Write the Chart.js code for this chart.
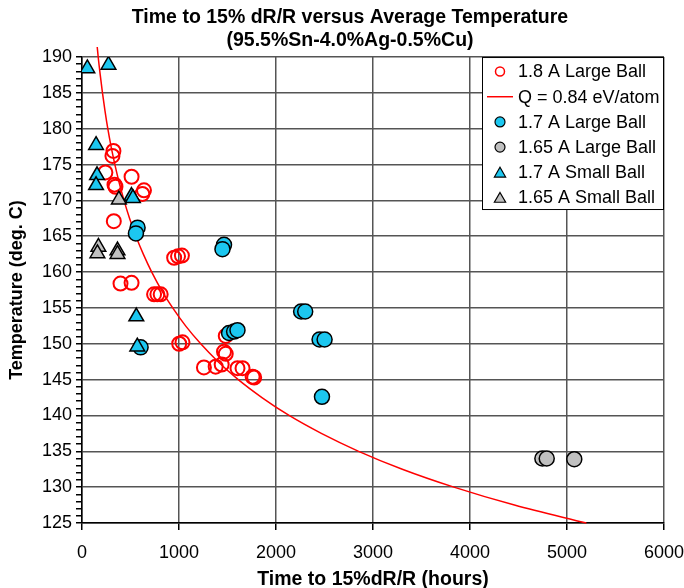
<!DOCTYPE html>
<html>
<head>
<meta charset="utf-8">
<title>Time to 15% dR/R versus Average Temperature</title>
<script src="https://cdn.jsdelivr.net/npm/chart.js@4.4.1/dist/chart.umd.min.js"></script>
<style>
  html, body { margin: 0; padding: 0; background: #ffffff; }
  canvas { display: block; }
</style>
</head>
<body>
<canvas id="chart" width="684" height="588"></canvas>
<script>
// Data (time in hours, temperature in deg. C)

// 1.8 A Large Ball
const large18Time = [324, 314, 241, 511, 335, 345, 639, 622, 328, 950, 990, 1030, 397, 511, 743, 777, 811,
  1002, 1036, 1482, 1464, 1482, 1257, 1378, 1440, 1603, 1655, 1759, 1775];
const large18Temp = [176.9, 176.2, 173.9, 173.3, 172.2, 171.9, 171.4, 170.9, 167.1, 162.0, 162.2, 162.3, 158.4, 158.5, 156.9, 156.9, 156.9,
  150.0, 150.2, 151.1, 148.9, 148.6, 146.7, 146.8, 147.1, 146.6, 146.6, 145.4, 145.3];

// Q = 0.84 eV/atom fit line
const fitTime = [157, 167, 188, 211, 237, 266, 300, 339, 383, 433, 490, 556, 632, 719, 819, 935, 1068, 1224, 1403, 1611, 1855, 2135, 2467, 2852, 3302, 3834, 4458, 5200];
const fitTemp = [191.4, 190, 187.5, 185, 182.5, 180, 177.5, 175, 172.5, 170, 167.5, 165, 162.5, 160, 157.5, 155, 152.5, 150, 147.5, 145, 142.5, 140, 137.5, 135, 132.5, 130, 127.5, 125];

// 1.7 A Large Ball
const large17Time = [573, 556, 1464, 1448, 2259, 2301, 1516, 1568, 1603, 2449, 2501, 2474, 604];
const large17Temp = [166.2, 165.4, 163.8, 163.2, 154.5, 154.5, 151.5, 151.7, 151.9, 150.6, 150.6, 142.6, 149.5];

// 1.65 A Large Ball
const large165Time = [4746, 4791, 5075];
const large165Temp = [134.0, 134.0, 133.9];

// 1.7 A Small Ball
const small17Time = [55, 273, 145, 155, 145, 510, 525, 560, 570];
const small17Temp = [188.4, 188.9, 177.7, 173.5, 172.1, 170.6, 170.3, 153.8, 149.6];

// 1.65 A Small Ball
const small165Time = [169, 159, 366, 366, 380];
const small165Temp = [163.5, 162.6, 163.0, 162.5, 170.1];

const xTickStep = 1000;
const yTickStep = 5;

function toPoints(xs, ys) {
  return xs.map(function (x, i) {
    return { x: x, y: ys[i] };
  });
}

const FONT = "'Liberation Sans', Arial, sans-serif";
const CYAN = "#1cc7f0";
const GREY = "#c0c0c0";

// Legend drawn as a framed box inside the plot area (top right corner)
const boxLegend = {
  id: "boxLegend",
  afterDatasetsDraw(chart) {
    const ctx = chart.ctx;
    const area = chart.chartArea;
    const w = 182;
    const h = 153;
    const left = area.right - w;
    const top = area.top;

    ctx.save();
    ctx.fillStyle = "#ffffff";
    ctx.fillRect(left, top, w, h);
    ctx.strokeStyle = "#000000";
    ctx.lineWidth = 1;
    ctx.strokeRect(left + 0.5, top + 0.5, w - 1, h - 1);

    ctx.font = "18px " + FONT;
    ctx.textBaseline = "middle";
    ctx.textAlign = "left";

    chart.data.datasets.forEach(function (ds, i) {
      const y = top + 14.5 + i * 25.2;
      const mx = left + 18;
      if (ds.showLine) {
        ctx.strokeStyle = ds.borderColor;
        ctx.lineWidth = ds.borderWidth;
        ctx.beginPath();
        ctx.moveTo(left + 5, y);
        ctx.lineTo(left + 31, y);
        ctx.stroke();
      } else {
        ctx.fillStyle = ds.backgroundColor;
        ctx.strokeStyle = ds.borderColor;
        ctx.lineWidth = ds.legendBorder;
        Chart.helpers.drawPoint(ctx, {
          pointStyle: ds.pointStyle,
          radius: ds.legendRadius,
          borderWidth: ds.legendBorder,
          rotation: 0,
        }, mx, ds.pointStyle === "triangle" ? y + 1.5 : y);
      }
      ctx.fillStyle = "#000000";
      ctx.fillText(ds.label, left + 36, y + 1);
    });
    ctx.restore();
  },
};

new Chart(document.getElementById("chart"), {
  type: "scatter",
  data: {
    datasets: [
      {
        label: "1.8 A Large Ball",
        data: toPoints(large18Time, large18Temp),
        pointStyle: "circle",
        pointRadius: 7,
        borderWidth: 2,
        borderColor: "#ff0000",
        backgroundColor: "rgba(0,0,0,0)",
        legendRadius: 4.5,
        legendBorder: 1.5,
        order: 10,
      },
      {
        label: "Q = 0.84 eV/atom",
        data: toPoints(fitTime, fitTemp),
        showLine: true,
        pointRadius: 0,
        borderWidth: 1.5,
        borderColor: "#ff0000",
        backgroundColor: "#ff0000",
        cubicInterpolationMode: "monotone",
        clip: false,
        order: 9,
      },
      {
        label: "1.7 A Large Ball",
        data: toPoints(large17Time, large17Temp),
        pointStyle: "circle",
        pointRadius: 7.5,
        borderWidth: 1.5,
        borderColor: "#000000",
        backgroundColor: CYAN,
        legendRadius: 5,
        legendBorder: 1.2,
        order: 4,
      },
      {
        label: "1.65 A Large Ball",
        data: toPoints(large165Time, large165Temp),
        pointStyle: "circle",
        pointRadius: 7.5,
        borderWidth: 1.5,
        borderColor: "#000000",
        backgroundColor: GREY,
        legendRadius: 5,
        legendBorder: 1.2,
        order: 3,
      },
      {
        label: "1.7 A Small Ball",
        data: toPoints(small17Time, small17Temp),
        pointStyle: "triangle",
        pointRadius: 8.5,
        borderWidth: 1.5,
        borderColor: "#000000",
        backgroundColor: CYAN,
        legendRadius: 6.5,
        legendBorder: 1.2,
        order: 2,
      },
      {
        label: "1.65 A Small Ball",
        data: toPoints(small165Time, small165Temp),
        pointStyle: "triangle",
        pointRadius: 8.5,
        borderWidth: 1.5,
        borderColor: "#000000",
        backgroundColor: GREY,
        legendRadius: 6.5,
        legendBorder: 1.2,
        order: 1,
      },
    ],
  },
  options: {
    responsive: false,
    animation: false,
    layout: { padding: { left: 16, right: 0, top: 0, bottom: 0 } },
    plugins: {
      legend: { display: false },
      tooltip: { enabled: false },
      title: {
        display: true,
        text: ["Time to 15% dR/R versus Average Temperature", "(95.5%Sn-4.0%Ag-0.5%Cu)"],
        color: "#000000",
        font: { family: FONT, size: 19.5, weight: "bold", lineHeight: 1.18 },
        padding: { top: 6.5, bottom: 4.5 },
      },
    },
    scales: {
      x: {
        type: "linear",
        min: 0,
        max: 6000,
        afterFit: function (scale) {
          scale.height = 65;
          // let the last tick label run into the right margin like the original
          scale.paddingRight = 20;
        },
        ticks: {
          stepSize: xTickStep,
          color: "#000000",
          padding: 12,
          font: { family: FONT, size: 18 },
          callback: function (v) {
            return String(v);
          },
        },
        grid: {
          color: "#555555",
          lineWidth: 1.5,
          tickColor: "#000000",
          tickLength: 7,
        },
        border: { color: "#000000", width: 1.5 },
        title: {
          display: true,
          text: "Time to 15%dR/R (hours)",
          color: "#000000",
          font: { family: FONT, size: 19.5, weight: "bold", lineHeight: 1.18 },
          padding: { top: 0, bottom: -3.5 },
        },
      },
      y: {
        type: "linear",
        min: 125,
        max: 190,
        afterFit: function (scale) {
          scale.width = 66;
        },
        ticks: {
          stepSize: 1,
          autoSkip: false,
          color: "#000000",
          padding: 4,
          font: { family: FONT, size: 18 },
          callback: function (v) {
            return v % yTickStep === 0 ? String(v) : "";
          },
        },
        grid: {
          color: function (ctx) {
            return ctx.tick && ctx.tick.value % yTickStep === 0 ? "#555555" : "rgba(0,0,0,0)";
          },
          lineWidth: 1.5,
          tickColor: "#000000",
          tickLength: 6,
        },
        border: { color: "#000000", width: 1.5 },
        title: {
          display: true,
          text: "Temperature (deg. C)",
          color: "#000000",
          font: { family: FONT, size: 18, weight: "bold", lineHeight: 1.2 },
          padding: { top: -10, bottom: 0 },
        },
      },
    },
  },
  plugins: [boxLegend],
});
</script>
</body>
</html>
